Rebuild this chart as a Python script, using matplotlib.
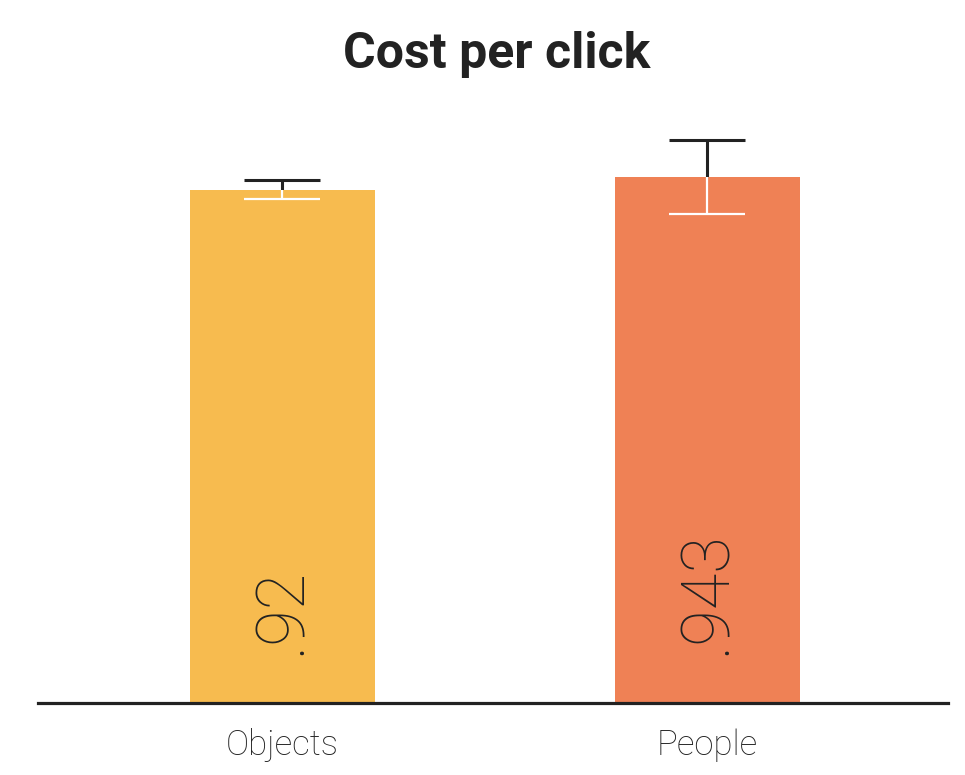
import matplotlib
matplotlib.use("Agg")
import matplotlib.pyplot as plt

categories = ["Objects", "People"]
values = [0.92, 0.943]
errors = [0.017, 0.067]
value_labels = [".92", ".943"]
colors = ["#F7BB4F", "#EF8155"]

fig = plt.figure(figsize=(9.65, 7.75), dpi=100)
ax = fig.add_axes([38/965, 72/775, 910/965, 593/775])

x = list(range(len(categories)))
bars = ax.bar(x, values, width=0.435, color=colors, zorder=2)

# black error bar part (visible above bar)
ax.errorbar(x, values, yerr=errors, fmt="none", ecolor="#222222",
            elinewidth=2.2, capsize=27.5, capthick=2.2, zorder=1)
# white part inside the bar
for xi, v, e, b in zip(x, values, errors, bars):
    eb = ax.errorbar([xi], [v], yerr=[e], fmt="none", ecolor="white",
                     elinewidth=1.6, capsize=27.5, capthick=1.6, zorder=3)
    for art in eb.lines[1] + eb.lines[2]:
        art.set_clip_path(b)

for xi, lab in zip(x, value_labels):
    ax.text(xi, 0.086, lab, rotation=90, rotation_mode="anchor",
            ha="left", va="center", fontsize=48, family="Roboto",
            fontweight="light", color="#222222", zorder=4)

ax.set_xlim(-0.575, 1.566)
ax.set_ylim(0, 1.063)
for s in ["top", "right", "left"]:
    ax.spines[s].set_visible(False)
ax.spines["bottom"].set_linewidth(2.3)
ax.spines["bottom"].set_color("#222222")
ax.set_yticks([])
ax.set_xticks(x)
ax.set_xticklabels(categories, fontsize=25, family="Roboto",
                   fontweight="light", color="#222222")
ax.tick_params(axis="x", length=0, pad=18)

fig.text(497/965, 1 - 55/775, "Cost per click", ha="center", va="center",
         fontsize=36, family="Roboto", fontweight="bold", color="#222222")

fig.savefig("out.png", dpi=100)
